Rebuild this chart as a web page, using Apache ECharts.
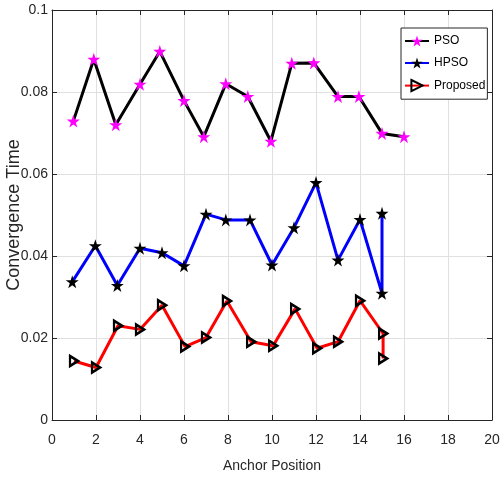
<!DOCTYPE html>
<html>
<head>
<meta charset="utf-8">
<script src="https://cdn.jsdelivr.net/npm/echarts@6/dist/echarts.min.js"></script>
<style>
html,body{margin:0;padding:0;background:#fff;}
#chart{width:502px;height:479px;}
</style>
</head>
<body>
<div id="chart"></div>
<script>
// ---- data ----
var seriesNames = ["PSO", "HPSO", "Proposed"];
var xTicks = [0, 2, 4, 6, 8, 10, 12, 14, 16, 18, 20];
var yTicks = [0, 0.02, 0.04, 0.06, 0.08, 0.1];

var psoX = [0.97, 1.9, 2.9, 4, 4.9, 6, 6.9, 7.9, 8.9, 9.95, 10.9, 11.9, 13, 13.95, 15, 16];
var psoY = [0.0729, 0.0880, 0.0720, 0.0819, 0.0899, 0.0779, 0.0691, 0.0820, 0.0789, 0.0680, 0.0870, 0.0871, 0.0789, 0.0789, 0.0699, 0.0691];

var hpsoX = [0.92, 1.97, 2.97, 4, 5, 6, 7, 7.9, 9, 10, 11, 12, 13, 14, 15, 15];
var hpsoY = [0.0337, 0.0425, 0.0328, 0.0419, 0.0408, 0.0376, 0.0502, 0.0488, 0.0488, 0.0378, 0.0469, 0.0579, 0.0390, 0.0489, 0.0309, 0.0504];

var propX = [1, 2, 3, 4, 5, 6.05, 7, 7.95, 9.05, 10.05, 11.05, 12.05, 13, 14, 15.05, 15.05];
var propY = [0.0144, 0.0128, 0.0230, 0.0221, 0.0280, 0.0179, 0.0201, 0.0290, 0.0191, 0.0181, 0.0271, 0.0175, 0.0191, 0.0291, 0.0211, 0.0150];

function pairs(xs, ys) { return xs.map(function (x, i) { return [x, ys[i]]; }); }

var STAR = 'path://M50,0 L61.2,34.5 L97.6,34.5 L68.2,55.9 L79.4,90.5 L50,69.1 L20.6,90.5 L31.8,55.9 L2.4,34.5 L38.8,34.5 Z';
var TRI_R = 'path://M0,0 L10,5 L0,10 Z';

var axisColor = '#262626';
var sans = '"Liberation Sans", Arial, sans-serif';

var chart = echarts.init(document.getElementById('chart'), null, {renderer: 'canvas'});

var xMin = xTicks[0], xMax = xTicks[xTicks.length - 1], xInt = xTicks[1] - xTicks[0];
var yMin = yTicks[0], yMax = yTicks[yTicks.length - 1], yInt = yTicks[1] - yTicks[0];

var option = {
  backgroundColor: '#ffffff',
  animation: false,
  grid: {left: 52, right: 10, top: 10, bottom: 59, containLabel: false, outerBoundsMode: 'none'},
  legend: {
    orient: 'vertical',
    left: 401,
    top: 28,
    padding: [7, 2, 7, 3],
    itemGap: 10,
    itemWidth: 24,
    itemHeight: 14,
    backgroundColor: '#ffffff',
    borderColor: axisColor,
    borderWidth: 1,
    textStyle: {fontFamily: sans, fontSize: 12, color: '#000'},
    data: seriesNames
  },
  xAxis: [{
    type: 'value', min: xMin, max: xMax, interval: xInt,
    name: 'Anchor Position', nameLocation: 'middle', nameGap: 39, nameMoveOverlap: false,
    nameTextStyle: {fontFamily: sans, fontSize: 14, color: axisColor},
    axisLine: {show: true, onZero: false, lineStyle: {color: axisColor, width: 1}},
    axisTick: {show: true, inside: true, length: 5, lineStyle: {color: axisColor}},
    axisLabel: {fontFamily: sans, fontSize: 14, color: axisColor, margin: 13},
    splitLine: {show: true, lineStyle: {color: '#e0e0e0', width: 1}}
  }, {
    type: 'value', position: 'top', min: xMin, max: xMax, interval: xInt,
    axisLine: {show: true, onZero: false, lineStyle: {color: axisColor, width: 1}},
    axisTick: {show: true, inside: true, length: 5, lineStyle: {color: axisColor}},
    axisLabel: {show: false},
    splitLine: {show: false}
  }],
  yAxis: [{
    type: 'value', min: yMin, max: yMax, interval: yInt,
    name: 'Convergence Time', nameLocation: 'middle', nameGap: 29, nameRotate: 90, nameMoveOverlap: false,
    nameTextStyle: {fontFamily: sans, fontSize: 18, color: axisColor},
    axisLine: {show: true, onZero: false, lineStyle: {color: axisColor, width: 1}},
    axisTick: {show: true, inside: true, length: 5, lineStyle: {color: axisColor}},
    axisLabel: {fontFamily: sans, fontSize: 14, color: axisColor, margin: 4,
      formatter: function (v) { return String(+v.toFixed(4)); }},
    splitLine: {show: true, lineStyle: {color: '#e0e0e0', width: 1}}
  }, {
    type: 'value', position: 'right', min: yMin, max: yMax, interval: yInt,
    axisLine: {show: true, onZero: false, lineStyle: {color: axisColor, width: 1}},
    axisTick: {show: true, inside: true, length: 5, lineStyle: {color: axisColor}},
    axisLabel: {show: false},
    splitLine: {show: false}
  }],
  series: [{
    name: seriesNames[0], type: 'line', xAxisIndex: 0, yAxisIndex: 0,
    data: pairs(psoX, psoY),
    symbol: STAR, symbolSize: 13,
    lineStyle: {color: '#000000', width: 3},
    itemStyle: {color: '#ff00ff', borderWidth: 0}
  }, {
    name: seriesNames[1], type: 'line', xAxisIndex: 0, yAxisIndex: 0,
    data: pairs(hpsoX, hpsoY),
    symbol: STAR, symbolSize: 13,
    lineStyle: {color: '#0000ff', width: 3},
    itemStyle: {color: '#000000', borderWidth: 0}
  }, {
    name: seriesNames[2], type: 'line', xAxisIndex: 0, yAxisIndex: 0,
    data: pairs(propX, propY),
    symbol: TRI_R, symbolSize: [8, 10],
    lineStyle: {color: '#ff0000', width: 3},
    itemStyle: {color: 'rgba(255,255,255,0)', borderColor: '#000000', borderWidth: 2.5}
  }]
};
chart.setOption(option);
</script>
</body>
</html>
